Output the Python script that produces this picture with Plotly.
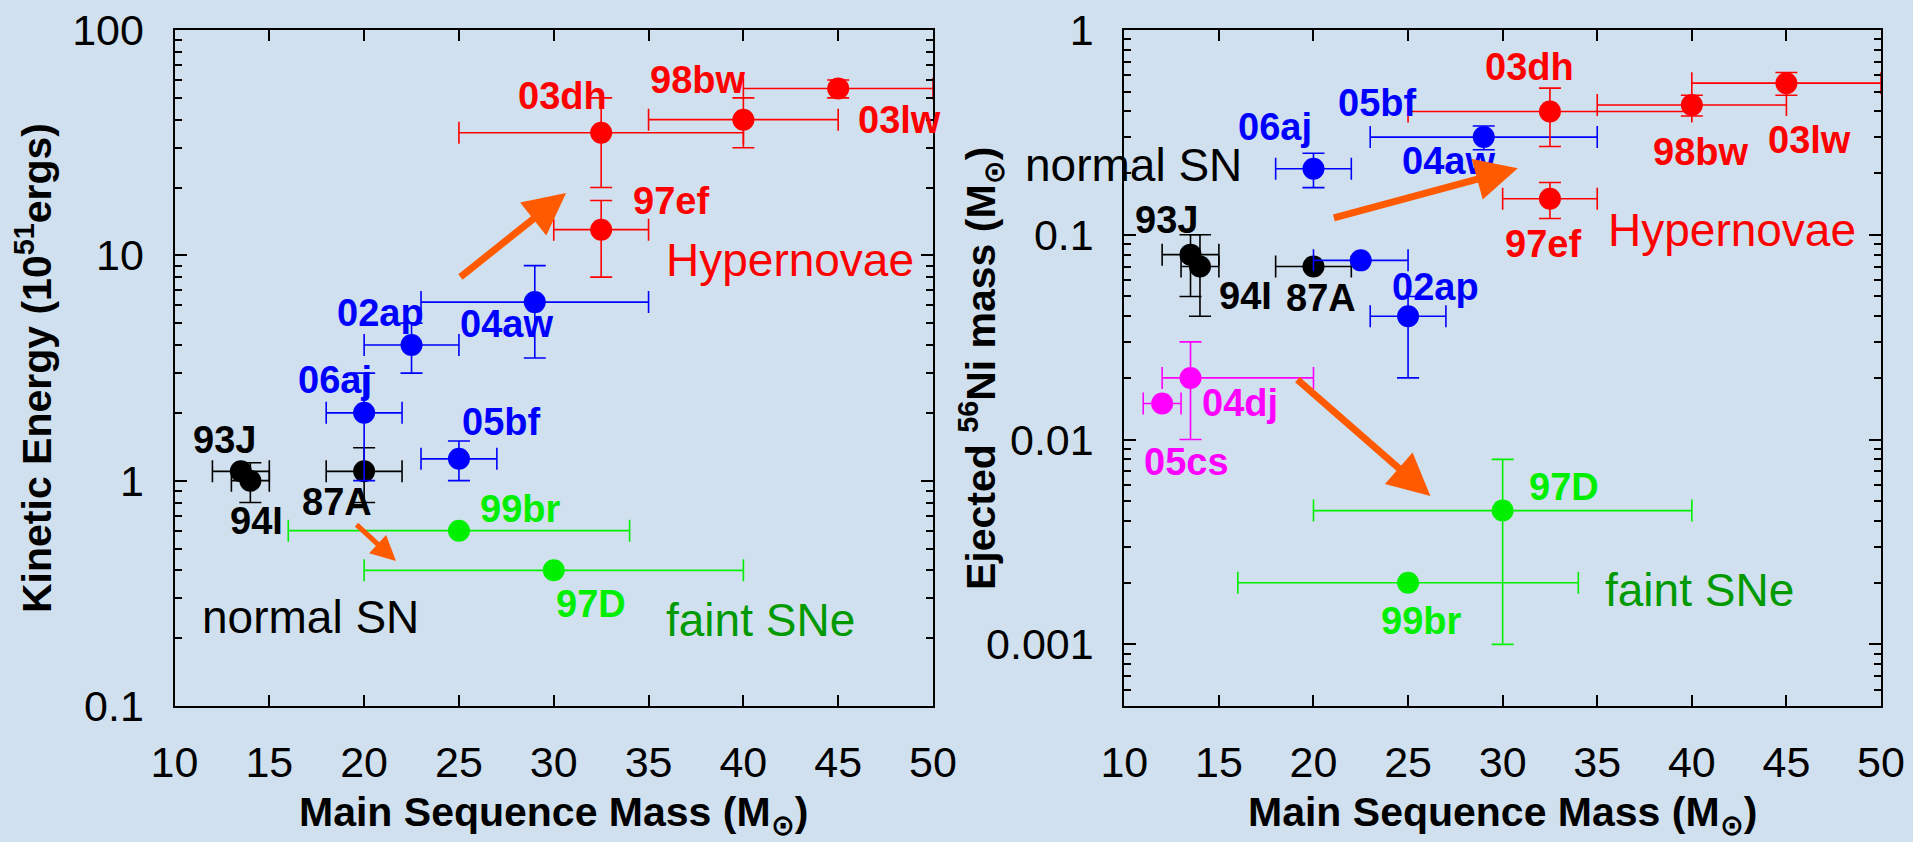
import math
import plotly.graph_objects as go

# ---------------- data: left panel (kinetic energy) ----------------
sn_E = ["03lw", "98bw", "03dh", "97ef", "04aw", "02ap", "06aj", "05bf",
        "87A", "93J", "94I", "99br", "97D"]
class_E = ["HN", "HN", "HN", "HN", "Ic", "Ic", "Ic", "Ic",
           "SN", "SN", "SN", "faint", "faint"]
mass_E = [45, 40, 32.5, 32.5, 29, 22.5, 20, 25, 20, 13.5, 14, 25, 30]
mass_lo_E = [5, 5, 7.5, 2.5, 6, 2.5, 2, 2, 2, 1.5, 1, 9, 10]
mass_hi_E = [5, 5, 7.5, 2.5, 6, 2.5, 2, 2, 2, 1.5, 1, 9, 10]
energy = [55, 40, 35, 13, 6.2, 4, 2, 1.25, 1.1, 1.1, 1.0, 0.6, 0.4]
energy_hi = [5, 10, 15, 4.5, 2.8, 1, 1, 0.25, 0.3, 0, 0.2, 0, 0]
energy_lo = [5, 10, 15, 5, 2.7, 1, 1, 0.25, 0.3, 0, 0.2, 0, 0]

# ---------------- data: right panel (ejected 56Ni mass) ----------------
sn_Ni = ["03lw", "98bw", "03dh", "97ef", "04aw", "02ap", "05bf", "06aj",
         "87A", "93J", "94I", "04dj", "05cs", "97D", "99br"]
class_Ni = ["HN", "HN", "HN", "HN", "Ic", "Ic", "Ic", "Ic",
            "SN", "SN", "SN", "Ib", "Ib", "faint", "faint"]
mass_Ni = [45, 40, 32.5, 32.5, 29, 22.5, 25, 20, 20, 13.5, 14, 13.5, 12, 30, 25]
mass_lo_Ni = [5, 5, 7.5, 2.5, 6, 2.5, 2, 2, 2, 1.5, 1, 1.5, 1, 10, 9]
mass_hi_Ni = [5, 5, 7.5, 2.5, 6, 2.5, 2, 2, 2, 1.5, 1, 6.5, 1, 10, 9]
nickel = [0.55, 0.43, 0.40, 0.15, 0.30, 0.075, 0.04, 0.21, 0.07, 0.08, 0.07,
          0.02, 0.015, 0.0045, 0.002]
nickel_hi = [0.07, 0.05, 0.12, 0.03, 0.04, 0, 0.01, 0.04, 0, 0.02, 0.03,
             0.01, 0, 0.0035, 0]
nickel_lo = [0.07, 0.05, 0.13, 0.03, 0.04, 0, 0.02, 0.04, 0, 0.03, 0.03,
             0.01, 0, 0.0035, 0]

x_ticks = [10, 15, 20, 25, 30, 35, 40, 45, 50]
yE_ticks = [0.1, 1, 10, 100]
yE_ticktext = ["0.1", "1", "10", "100"]
yNi_ticks = [0.001, 0.01, 0.1, 1]
yNi_ticktext = ["0.001", "0.01", "0.1", "1"]

# label text, index of point it sits beside, pixel offset (dx right, dy down)
labels_E = [("03lw", 0, 61, 31), ("98bw", 1, -46, -40), ("03dh", 2, -39, -37),
            ("97ef", 3, 70, -29), ("04aw", 4, -28, 22), ("02ap", 5, -31, -32),
            ("06aj", 6, -29, -33), ("05bf", 7, 42, -37), ("87A", 8, -27, 31),
            ("93J", 9, -16, -31), ("94I", 10, 6, 40), ("99br", 11, 61, -22),
            ("97D", 12, 37, 34)]
labels_Ni = [("03lw", 0, 23, 57), ("98bw", 1, 9, 47), ("03dh", 2, -20, -44),
             ("97ef", 3, -7, 45), ("04aw", 4, -35, 24), ("05bf", 4, -107, -34),
             ("02ap", 6, 27, -29), ("06aj", 7, -38, -42), ("87A", 8, 8, 31),
             ("93J", 9, -24, -35), ("94I", 10, 46, 29), ("04dj", 11, 49, 25),
             ("05cs", 12, 24, 58), ("97D", 13, 61, -24), ("99br", 14, 13, 38)]

colors = {"HN": "#ff0000", "Ic": "#0000ff", "SN": "#000000",
          "Ib": "#ff00ff", "faint": "#00f000"}
order = ["faint", "Ib", "SN", "Ic", "HN"]

BG = "rgb(208,224,238)"
FONT = "Liberation Sans, Arial, DejaVu Sans, sans-serif"
ORANGE = "#ff5a00"

fig = go.Figure()


def add_panel(xa, ya, cls, mx, mlo, mhi, val, vhi, vlo):
    for c in order:
        idx = [i for i, k in enumerate(cls) if k == c]
        if not idx:
            continue
        col = colors[c]
        fig.add_trace(go.Scatter(
            x=[mx[i] for i in idx], y=[val[i] for i in idx],
            xaxis=xa, yaxis=ya, mode="markers",
            marker=dict(size=22, color=col),
            error_x=dict(type="data", symmetric=False,
                         array=[mhi[i] for i in idx],
                         arrayminus=[mlo[i] for i in idx],
                         color=col, thickness=1.6, width=11),
            error_y=dict(type="data", symmetric=False,
                         array=[vhi[i] for i in idx],
                         arrayminus=[vlo[i] for i in idx],
                         color=col, thickness=1.6, width=11),
            showlegend=False, hoverinfo="skip", cliponaxis=False,
        ))


add_panel("x", "y", class_E, mass_E, mass_lo_E, mass_hi_E, energy, energy_hi, energy_lo)
add_panel("x2", "y2", class_Ni, mass_Ni, mass_lo_Ni, mass_hi_Ni, nickel, nickel_hi, nickel_lo)

ann = []


def add_labels(labels, cls, mx, val, xr, yr):
    for text, i, dx, dy in labels:
        c = colors[cls[i]]
        if cls[i] == "faint":
            c = "#00ee00"
        ann.append(dict(text="<b>%s</b>" % text, x=mx[i], y=math.log10(val[i]),
                        xref=xr, yref=yr, xshift=dx, yshift=-dy, showarrow=False,
                        xanchor="center", yanchor="middle",
                        font=dict(family=FONT, size=38, color=c)))


add_labels(labels_E, class_E, mass_E, energy, "x", "y")
add_labels(labels_Ni, class_Ni, mass_Ni, nickel, "x2", "y2")

# group captions
captions = [("Hypernovae", "x", "y", 42.46, 0.979, "#ff0000"),
            ("faint SNe", "x", "y", 40.88, -0.619, "#009900"),
            ("normal SN", "x", "y", 17.15, -0.605, "#000000"),
            ("Hypernovae", "x2", "y2", 42.14, -0.977, "#ff0000"),
            ("faint SNe", "x2", "y2", 40.4, -2.734, "#009900"),
            ("normal SN", "x2", "y2", 10.46, -0.659, "#000000")]
for t, xr, yr, xx, yy, c in captions:
    ann.append(dict(text=t, x=xx, y=yy, xref=xr, yref=yr, showarrow=False,
                    xanchor="center", yanchor="middle",
                    font=dict(family=FONT, size=46, color=c)))

# trend arrows (tip x, tip y, tail x, tail y) in axis units (log10 for y)
arrows = [("x", "y", 30.65, 1.277, 25.0, 0.899, 7, 1.2),
          ("x", "y", 21.68, -0.357, 19.52, -0.189, 5, 1.0),
          ("x2", "y2", 30.8, -0.675, 21.0, -0.919, 7, 1.2),
          ("x2", "y2", 26.18, -2.275, 19.07, -1.701, 7, 1.2)]
for xr, yr, x1, y1, x0, y0, w, s in arrows:
    ann.append(dict(text="", x=x1, y=y1, ax=x0, ay=y0, xref=xr, yref=yr,
                    axref=xr, ayref=yr, showarrow=True, arrowhead=2,
                    arrowsize=s, arrowwidth=w, arrowcolor=ORANGE, standoff=0))

W, H = 1913, 842
# axis titles
tfont = dict(family=FONT, size=41, color="black")
ann.append(dict(text="<b>Kinetic Energy (10<sup>51</sup>ergs)</b>", x=34 / W, y=1 - 368 / H,
                xref="paper", yref="paper", textangle=-90, showarrow=False,
                xanchor="center", yanchor="middle", font=tfont))
ann.append(dict(text="<b>Ejected <sup>56</sup>Ni mass (M<sub>⊙</sub>)</b>", x=981 / W, y=1 - 368 / H,
                xref="paper", yref="paper", textangle=-90, showarrow=False,
                xanchor="center", yanchor="middle", font=tfont))
for cx in (553.8, 1502.6):
    ann.append(dict(text="<b>Main Sequence Mass (M<sub>⊙</sub>)</b>", x=cx / W, y=1 - 815 / H,
                    xref="paper", yref="paper", showarrow=False,
                    xanchor="center", yanchor="middle", font=tfont))

xaxis_common = dict(range=[10, 50], tickvals=x_ticks, ticks="inside", ticklen=11,
                    tickwidth=2, tickcolor="black", mirror="ticks", showline=True,
                    linecolor="black", linewidth=2, showgrid=False, zeroline=False,
                    automargin=False,
                    tickfont=dict(family=FONT, size=43, color="black"),
                    ticklabelstandoff=17)
yaxis_common = dict(type="log", ticks="inside", ticklen=12, tickwidth=2, tickcolor="black",
                    mirror="ticks", showline=True, linecolor="black", linewidth=2,
                    showgrid=False, zeroline=False, automargin=False,
                    tickfont=dict(family=FONT, size=43, color="black"),
                    ticklabelstandoff=20,
                    minor=dict(ticks="inside", ticklen=7, tickwidth=2, tickcolor="black",
                               dtick="D1", showgrid=False))

ydom = [1 - 706 / H, 1 - 30 / H]
fig.update_layout(
    template="none",
    width=W, height=H, autosize=False,
    margin=dict(l=0, r=0, t=0, b=0, pad=0, autoexpand=False),
    paper_bgcolor=BG, plot_bgcolor="rgba(0,0,0,0)",
    showlegend=False,
    xaxis=dict(xaxis_common, domain=[174.5 / W, 933 / W], anchor="y"),
    yaxis=dict(yaxis_common, domain=ydom, range=[-1, 2], tickvals=yE_ticks,
               ticktext=yE_ticktext, anchor="x"),
    xaxis2=dict(xaxis_common, domain=[1124.3 / W, 1881 / W], anchor="y2"),
    yaxis2=dict(yaxis_common, domain=ydom, range=[math.log10(0.0005), 0], tickvals=yNi_ticks,
                ticktext=yNi_ticktext, anchor="x2"),
    annotations=ann,
)

fig.write_html("out.html")
